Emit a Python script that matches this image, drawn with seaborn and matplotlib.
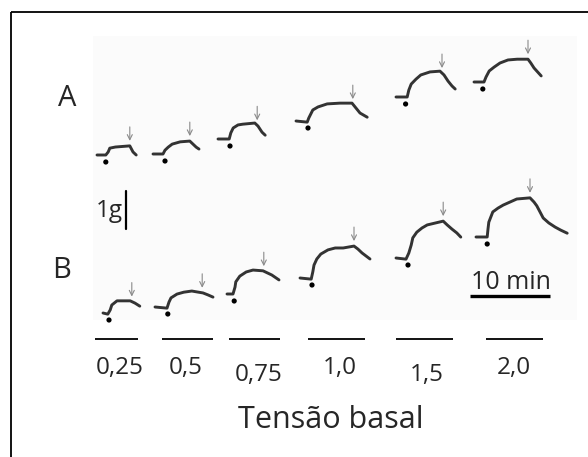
import numpy as np
import pandas as pd
import seaborn as sns
from matplotlib import pyplot as plt
from matplotlib.patches import Rectangle

# basal tension (g) for each column of recordings
BASAL_LABELS = ["0,25", "0,5", "0,75", "1,0", "1,5", "2,0"]
ROW_LABELS = ["A", "B"]

# row A: time (min) and developed force (g) relative to the start of each trace
A_TIME = [
    [0, 1.1, 1.4, 1.6, 2.3, 4.1, 4.5, 4.9],
    [0, 1.25, 1.5, 1.9, 2.4, 3.4, 4.6, 5.0, 5.4, 5.75],
    [0, 1.4, 1.6, 1.9, 2.5, 3.1, 4.6, 5.0, 5.5, 5.9],
    [0, 1.4, 1.6, 2.1, 2.75, 3.9, 5.5, 7.0, 7.5, 8.0, 8.9],
    [0, 1.4, 1.6, 1.9, 2.5, 3.1, 4.25, 5.5, 6.0, 6.5, 7.0, 7.4],
    [0, 1.25, 1.5, 1.9, 2.5, 3.25, 4.25, 5.4, 6.75, 7.1, 7.5, 8.4],
]
A_FORCE = [
    [0, 0, 0.08, 0.18, 0.21, 0.24, 0.08, 0.0],
    [0, 0, 0.1, 0.18, 0.26, 0.32, 0.34, 0.26, 0.18, 0.13],
    [0, 0, 0.16, 0.29, 0.37, 0.39, 0.42, 0.34, 0.18, 0.1],
    [0, -0.03, 0.08, 0.29, 0.37, 0.45, 0.47, 0.47, 0.34, 0.21, 0.1],
    [0, 0, 0.18, 0.34, 0.47, 0.58, 0.66, 0.68, 0.58, 0.42, 0.29, 0.21],
    [0, 0, 0.13, 0.29, 0.39, 0.5, 0.58, 0.6, 0.6, 0.5, 0.37, 0.16],
]
A_STIM = [1.1, 1.5, 1.5, 1.5, 1.2, 1.1]
A_RELEASE = [4.1, 4.6, 4.9, 7.1, 5.75, 6.75]

# row B
B_TIME = [
    [0, 0.6, 0.9, 1.1, 1.75, 3.4, 4.0, 4.6],
    [0, 1.5, 1.75, 2.0, 2.75, 3.6, 4.6, 6.0, 6.6, 7.25],
    [0, 0.75, 1.0, 1.1, 1.6, 2.4, 3.25, 4.5, 5.6, 6.5],
    [0, 1.4, 1.6, 1.75, 2.1, 2.6, 3.5, 4.4, 5.4, 6.75, 7.25, 7.75, 8.25, 8.75],
    [0, 1.25, 1.6, 1.9, 2.1, 2.6, 3.25, 3.9, 4.9, 5.9, 6.4, 7.0, 7.6, 8.1],
    [0, 1.4, 1.5, 1.6, 2.1, 2.75, 3.4, 4.25, 5.1, 6.75, 7.25, 7.6, 8.0, 8.4,
     9.1, 9.9, 10.6, 11.4],
]
B_FORCE = [
    [0, -0.03, 0.08, 0.21, 0.32, 0.32, 0.26, 0.18],
    [0, -0.03, 0.13, 0.24, 0.34, 0.39, 0.42, 0.37, 0.32, 0.26],
    [0, 0, 0.18, 0.32, 0.47, 0.58, 0.63, 0.61, 0.5, 0.37],
    [0, -0.03, 0.16, 0.34, 0.5, 0.63, 0.74, 0.79, 0.79, 0.84, 0.76, 0.66, 0.58, 0.5],
    [0, -0.03, 0.13, 0.34, 0.53, 0.68, 0.79, 0.87, 0.92, 0.97, 0.87, 0.76, 0.66, 0.55],
    [0, 0, 0.21, 0.39, 0.66, 0.76, 0.84, 0.92, 1.0, 1.03, 0.92, 0.82, 0.66, 0.5,
     0.37, 0.26, 0.18, 0.1],
]
B_STIM = [0.75, 1.6, 0.9, 1.5, 1.5, 1.4]
B_RELEASE = [3.6, 5.9, 4.6, 6.75, 5.9, 6.75]

# layout (figure pixels)
W, H = 588, 457
PX_PER_MIN = 8.0
PX_PER_G = 38.0
A_ORIGIN = [(97, 155), (153, 154), (218, 139), (296, 121), (396, 97), (474, 82)]
B_ORIGIN = [(103, 313), (155, 307), (227, 294), (300, 278), (396, 258), (476, 237)]
BAR_SPANS = [(95, 138), (162, 213), (229, 280), (308, 365), (396, 453), (486, 543)]
BAR_Y = 339
LABEL_X = [120, 186, 259, 339.5, 427, 514]
LABEL_Y = [374, 374, 381, 374, 381, 374]

sns.set_theme(style="white")
plt.rcParams["font.family"] = ["Open Sans", "DejaVu Sans"]

traces = []
dots = []
arrows = []
rows = [
    ("A", A_TIME, A_FORCE, A_STIM, A_RELEASE, A_ORIGIN),
    ("B", B_TIME, B_FORCE, B_STIM, B_RELEASE, B_ORIGIN),
]
for row, times, forces, stims, rels, origins in rows:
    for k, (t, g) in enumerate(zip(times, forces)):
        x0, y0 = origins[k]
        t = np.asarray(t, dtype=float)
        g = np.asarray(g, dtype=float)
        xs = x0 + t * PX_PER_MIN
        ys = y0 - g * PX_PER_G
        traces.append(pd.DataFrame({"x": xs, "y": ys, "trace": f"{row}{k}"}))
        dots.append({"x": x0 + stims[k] * PX_PER_MIN, "y": y0 + 7})
        ax_ = x0 + rels[k] * PX_PER_MIN
        arrows.append((ax_, float(np.interp(ax_, xs, ys))))

trace_df = pd.concat(traces, ignore_index=True)
dot_df = pd.DataFrame(dots)

fig = plt.figure(figsize=(W / 100, H / 100), dpi=100)
ax = fig.add_axes([0, 0, 1, 1])

# faint background of the scanned recordings
ax.add_patch(Rectangle((93, 36), 484, 284, facecolor="#fbfbfb", edgecolor="none", zorder=0))

# frame (top and left only)
ax.plot([10.5, W], [11.5, 11.5], color="black", lw=1.3, solid_capstyle="butt")
ax.plot([10.5, 10.5], [11.5, H], color="black", lw=1.3, solid_capstyle="butt")

sns.lineplot(
    data=trace_df, x="x", y="y", units="trace", estimator=None, sort=False,
    color="#333333", lw=2.1, ax=ax, legend=False,
)
sns.scatterplot(data=dot_df, x="x", y="y", color="black", s=14, edgecolor="none", ax=ax)

for x, y in arrows:
    ax.annotate(
        "", xy=(x, y - 5), xytext=(x, y - 19),
        arrowprops=dict(arrowstyle="->", color="#8a8a8a", lw=0.8,
                        shrinkA=0, shrinkB=0, mutation_scale=9),
    )

ax.set_xlim(0, W)
ax.set_ylim(H, 0)
ax.axis("off")

# row labels
ax.text(67.5, 106, ROW_LABELS[0], fontsize=21, ha="center", va="baseline")
ax.text(61.5, 278, ROW_LABELS[1], fontsize=21, ha="center", va="baseline")

# scale bars
ax.plot([126, 126], [191, 229], color="black", lw=1.6)
ax.text(96, 217, "1g", fontsize=17.5, ha="left", va="baseline")
ax.plot([470, 550], [296, 296], color="black", lw=2.4, solid_capstyle="butt")
ax.text(471, 289, "10 min", fontsize=18, ha="left", va="baseline")

# basal tension bars and labels
for (xa, xb), lx, ly, lab in zip(BAR_SPANS, LABEL_X, LABEL_Y, BASAL_LABELS):
    ax.plot([xa, xb], [BAR_Y, BAR_Y], color="black", lw=1.3, solid_capstyle="butt")
    ax.text(lx, ly, lab, fontsize=17.5, ha="center", va="baseline")

ax.text(331, 428, "Tensão basal", fontsize=22, ha="center", va="baseline")

fig.savefig("out.png", dpi=100, facecolor="white")
plt.close(fig)
